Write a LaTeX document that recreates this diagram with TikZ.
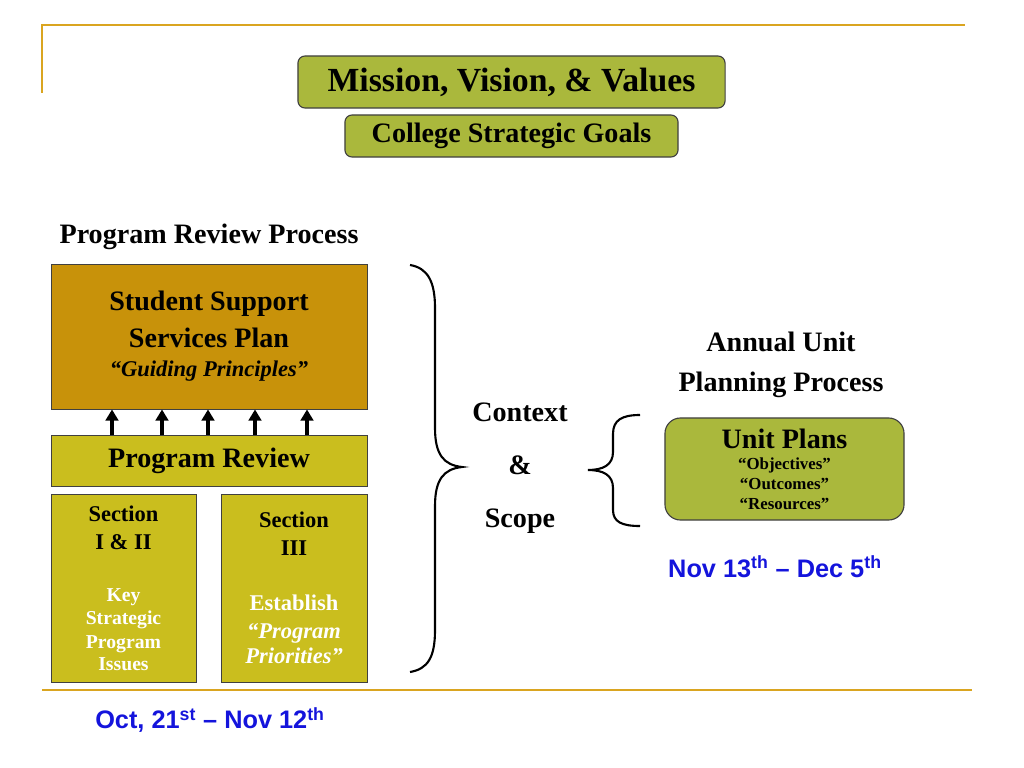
\documentclass[tikz,border=0pt]{standalone}
\usepackage{fontspec}
\setmainfont{Liberation Serif}
\newfontfamily\arialfont{Liberation Sans}
\usepackage{tikz}
\usetikzlibrary{positioning,arrows.meta,calc}

\definecolor{missgreen}{RGB}{170,184,60}
\definecolor{plangold}{RGB}{200,146,10}
\definecolor{revolive}{RGB}{202,190,30}
\definecolor{ruleclr}{RGB}{218,165,32}
\definecolor{dateblue}{RGB}{20,20,220}

\newcommand{\wsmall}[1]{{\fontsize{14}{16.5}\selectfont\color{white}#1}}
\newcommand{\wbig}[1]{{\color{white}#1}}

\begin{document}
\begin{tikzpicture}[
  x=0.025cm, y=-0.025cm,
  font=\bfseries,
  >=Stealth,
  greenbox/.style={draw=black!75, line width=0.8pt, fill=missgreen, rounded corners=5pt, align=center, inner sep=0pt},
  goldbox/.style={draw=black!75, line width=0.6pt, fill=plangold, align=center, inner sep=0pt},
  olivebox/.style={draw=black!75, line width=0.6pt, fill=revolive, align=center, inner sep=0pt},
  uparrow/.style={-{Triangle[length=8pt,width=9pt]}, line width=2.6pt},
  bracepath/.style={line width=1.5pt},
  slide rule/.style={draw=ruleclr, line width=1.6pt},
  datetext/.style={font=\arialfont\bfseries\fontsize{18}{22}\selectfont, text=dateblue}
]
  \useasboundingbox (0,0) rectangle (1024,768);
  \draw[slide rule] (42,93) -- (42,25) -- (965,25);
  \draw[slide rule] (42,690) -- (972,690);

  \node[greenbox, minimum width=10.675cm, minimum height=1.3cm, font=\bfseries\fontsize{24}{28}\selectfont] (mission) at (511.5,82) {Mission, Vision, \& Values};
  \node[greenbox, minimum width=8.325cm, minimum height=1.05cm, font=\bfseries\fontsize{20}{24}\selectfont] (goals) at (511.5,136) {College Strategic Goals};

  \node[font=\bfseries\fontsize{20}{24}\selectfont] (prtitle) at (209,237) {Program Review Process};

  \node[goldbox, minimum width=7.9cm, minimum height=3.625cm, font=\bfseries\fontsize{20}{26}\selectfont] (ssplan) at (209,336.5)
    {\rule{0pt}{11pt}Student Support\\Services Plan\\[-5pt]{\fontsize{16}{20}\selectfont\itshape “Guiding Principles”}};
  \node[olivebox, minimum width=7.9cm, minimum height=1.275cm, font=\bfseries\fontsize{20}{24}\selectfont] (prgrev) at (209,460.5) {Program Review};

  \node[olivebox, minimum width=3.625cm, minimum height=4.7cm, font=\bfseries\fontsize{16}{16.5}\selectfont] (secA) at (123.5,588)
    {Section\\[3.4pt]I \& II\\[21pt]\wsmall{Key}\\\wsmall{Strategic}\\\wsmall{Program}\\[-0.7pt]\wsmall{Issues}};
  \node[olivebox, minimum width=3.65cm, minimum height=4.7cm, font=\bfseries\fontsize{16}{18}\selectfont] (secB) at (294,588)
    {Section\\[2pt]III\\[21pt]\wbig{Establish}\\[2pt]\wbig{\itshape “Program}\\\wbig{\itshape Priorities”}};

  \foreach \i/\x in {1/112,2/162,3/208,4/255,5/307} {
    \coordinate (ax\i) at (\x,0);
    \draw[uparrow] (prgrev.north -| ax\i) -- (ssplan.south -| ax\i);
  }

  % big brace
  \coordinate (bigtip) at (462,467);
  \draw[bracepath] (410,265) .. controls (428,268) and (435,282) .. (435,308) -- (435,428)
    .. controls (435,455) and (444,465) .. (bigtip)
    .. controls (444,469) and (435,479) .. (435,506) -- (435,630)
    .. controls (435,657) and (428,669) .. (410,672);

  \node[align=center, font=\bfseries\fontsize{20}{37.6}\selectfont] (ctx) at (520,468) {Context\\\&\\Scope};

  % small brace
  \coordinate (smalltip) at (588,470);
  \draw[bracepath] (640,415) .. controls (622,415) and (613,420) .. (613,434) -- (613,452)
    .. controls (613,465) and (603,470) .. (smalltip)
    .. controls (603,470) and (613,475) .. (613,488) -- (613,510)
    .. controls (613,522) and (622,526) .. (640,526);

  \node[align=center, font=\bfseries\fontsize{20}{28}\selectfont] (annual) at (781,365) {Annual Unit\\Planning Process};

  \node[greenbox, rounded corners=11pt, minimum width=5.975cm, minimum height=2.55cm, font=\bfseries\fontsize{12}{14.2}\selectfont] (unitpl) at (784.5,469)
    {{\fontsize{20}{24}\selectfont Unit Plans}\\[1pt]“Objectives”\\“Outcomes”\\“Resources”};

  \node[datetext] (novdate) at (775,567) {Nov 13\textsuperscript{th} – Dec 5\textsuperscript{th}};
  \node[datetext] (octdate) at (210,720) {Oct, 21\textsuperscript{st} – Nov 12\textsuperscript{th}};
\end{tikzpicture}
\end{document}
